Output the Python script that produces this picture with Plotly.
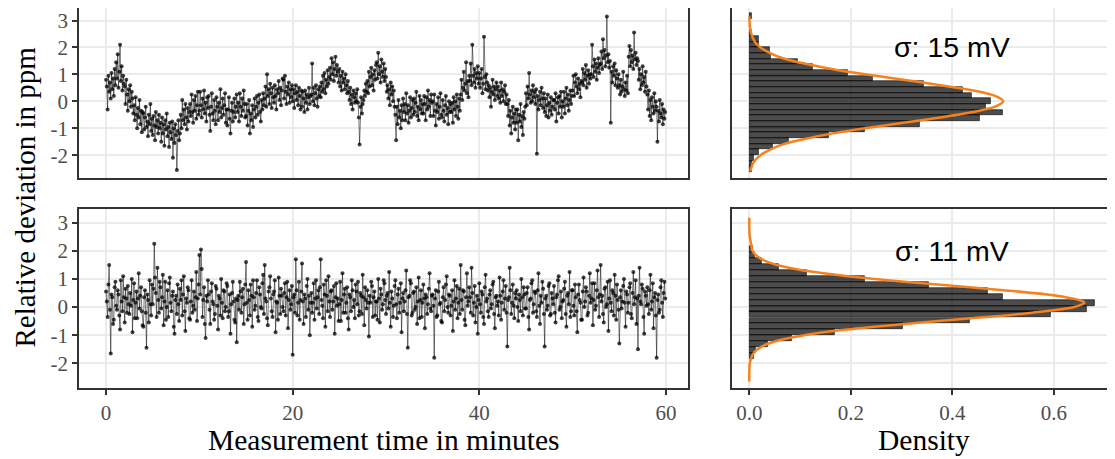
import plotly.graph_objects as go

# The page body adds an 8 px margin, so the figure is drawn 8 px in from the window corner.
PAGE_OFFSET = 8
WIN_W, WIN_H = 1115, 459
W, H = WIN_W - PAGE_OFFSET, WIN_H - PAGE_OFFSET

# ---------------- data ----------------
sample_interval_min = 1 / 12  # one reading every 5 s

# upper measurement, relative deviation in ppm (12 readings per minute)
top_ppm = [
    0.80, 0.55, -0.30, 0.95, 0.35, 0.70, 0.10, 1.05, 0.45, 0.85, 0.20, 1.20,
    0.60, 1.45, 0.85, 1.75, 0.50, 1.10, 2.10, 0.75, 1.30, 0.40, 0.95, 0.65,
    0.55, -0.10, 0.80, 0.25, -0.35, 0.45, 0.00, 0.60, -0.20, 0.35, 0.10, -0.45,
    -0.15, -0.70, 0.15, -0.50, -1.00, -0.25, -0.60, 0.05, -0.85, -0.35, -1.15, -0.40,
    -0.45, -1.05, -0.60, -0.20, -0.95, -0.75, -1.30, -0.50, -0.85, -0.10, -1.10, -0.65,
    -1.25, -0.55, -0.90, -1.45, -0.40, -0.95, -0.70, -1.20, -0.50, -1.00, -0.80, -1.50,
    -0.60, -1.20, -0.85, -1.65, -0.70, -1.05, -0.45, -1.30, -0.95, -1.70, -0.80, -1.15,
    -1.40, -0.75, -2.10, -1.00, -1.55, -0.85, -1.25, -2.55, -1.10, -0.70, -1.45, -1.20,
    -0.50, -1.00, 0.05, -0.70, -0.30, -0.85, -0.10, -0.60, -1.05, -0.25, -0.75, -0.40,
    -0.10, -0.55, 0.25, -0.40, -0.80, 0.05, -0.35, 0.20, -0.65, -0.15, 0.35, -0.50,
    -0.35, 0.35, -0.15, -0.60, 0.10, -0.30, 0.40, -0.45, -0.05, -0.75, 0.15, -0.25,
    0.20, -0.50, -1.10, -0.20, 0.30, -0.45, -0.70, 0.05, -0.35, -0.85, 0.15, -0.20,
    -0.70, -0.05, -0.40, 0.45, -0.60, -0.25, 0.10, -0.50, -0.15, 0.30, -0.80, -0.30,
    -0.90, -0.30, 0.15, -0.65, -1.20, -0.35, -0.05, -0.75, -0.40, 0.10, -0.60, -0.20,
    0.25, -0.40, -0.05, -0.75, 0.30, -0.20, -0.55, 0.10, -0.35, 0.40, -0.10, -0.60,
    -0.55, -0.10, -0.90, -0.35, 0.05, -1.20, -0.45, -0.70, -0.15, -0.95, -0.30, 0.10,
    -0.60, -0.20, 0.20, -0.50, -0.05, 0.25, -0.40, -0.75, 0.05, -0.30, 0.30, -0.15,
    0.10, 0.55, -0.20, 1.00, 0.20, 0.45, -0.10, 0.65, 0.30, -0.25, 0.50, 0.15,
    -0.05, 0.60, 0.20, -0.30, 0.45, 0.30, 0.75, 0.05, 0.50, -0.15, 0.40, 0.85,
    0.80, 0.10, 0.95, 0.35, -0.10, 0.55, 0.25, 0.70, -0.05, 0.45, 0.15, 0.60,
    0.00, 0.45, -0.25, 0.30, 0.60, 0.05, 0.35, -0.15, 0.50, 0.20, -0.30, 0.40,
    -0.20, 0.35, 0.10, -0.40, 0.40, -0.05, 0.25, -0.30, 0.15, 0.50, -0.10, 0.20,
    0.25, 1.40, 0.00, 0.50, -0.15, 0.30, 0.60, 0.10, -0.20, 0.45, 0.20, 0.55,
    0.15, 0.70, 0.35, 0.95, 0.45, 1.05, 0.30, 0.80, 0.55, 1.15, 0.65, 0.90,
    1.25, 0.80, 1.60, 1.00, 1.45, 0.75, 1.20, 1.65, 0.95, 1.35, 1.10, 0.70,
    1.20, 0.55, 0.95, 0.40, 1.10, 0.70, 0.85, 0.45, 1.00, 0.60, 0.30, 0.75,
    0.35, 0.05, 0.50, -0.10, 0.25, -0.30, 0.40, 0.15, -0.05, 0.30, 0.00, 0.45,
    -0.05, -0.60, -1.60, -0.20, 0.15, -0.45, -0.10, 0.05, 0.40, 0.20, 0.65, 0.35,
    0.75, 0.30, 1.10, 0.55, 0.90, 1.25, 0.60, 1.00, 0.40, 1.15, 0.80, 1.35,
    1.45, 0.85, 1.80, 1.00, 1.30, 0.70, 1.55, 1.10, 0.90, 1.40, 0.75, 1.20,
    0.90, 0.35, 0.60, 0.10, 0.45, -0.15, 0.70, 0.25, 0.55, 0.00, 0.40, -0.20,
    -0.50, -1.45, -0.20, -0.85, 0.05, -0.60, -0.35, -1.00, -0.15, -0.70, 0.10, -0.40,
    -0.10, -0.70, 0.30, -0.45, -0.15, -0.80, -0.35, 0.15, -0.60, -0.25, 0.05, -0.50,
    0.10, -0.40, -0.05, 0.35, -0.55, -0.20, -0.70, 0.20, -0.30, 0.05, -0.45, -0.10,
    -0.45, 0.20, -0.10, -0.70, 0.15, -0.30, 0.40, -0.20, 0.05, -0.55, 0.25, -0.05,
    0.00, -0.55, 0.25, -0.35, -0.90, -0.10, -0.40, 0.15, -0.65, -0.20, 0.30, -0.50,
    -0.60, 0.05, -0.35, -0.75, -0.15, 0.20, -0.50, -0.25, -0.85, 0.00, -0.40, -0.10,
    -0.40, -0.05, -0.80, 0.15, -0.30, 0.00, -0.55, 0.25, -0.20, -0.65, 0.10, -0.35,
    0.25, 0.80, 0.05, 0.50, 1.10, 0.40, 0.65, 1.45, 0.30, 0.75, 0.15, 0.95,
    0.75, 1.40, 0.60, 2.10, 0.95, 0.70, 1.20, 0.50, 1.05, 0.85, 1.30, 0.65,
    1.05, 0.50, 0.85, 1.20, 0.30, 0.65, 2.40, 0.90, 0.45, 1.00, 0.70, 0.40,
    0.60, 0.15, 0.50, -0.20, 0.35, 0.80, 0.25, 0.55, 0.05, 0.45, 0.70, 0.20,
    0.55, 0.10, 0.40, -0.05, 0.70, 0.20, 0.45, 0.00, 0.35, 0.60, -0.10, 0.25,
    -0.10, -0.55, 0.05, -0.90, -0.35, -1.20, -0.60, -0.20, -0.80, -0.45, -1.05, -0.30,
    -0.80, -0.30, -1.45, -0.50, -0.75, -0.10, -0.95, -0.55, -1.25, -0.40, -0.65, -0.20,
    0.30, -0.15, 0.55, 0.10, 1.05, 0.25, -0.05, 0.40, 0.00, 0.60, 0.15, 0.35,
    -0.10, 0.45, -1.95, 0.20, -0.30, 0.05, 0.35, -0.15, 0.50, 0.10, -0.25, 0.30,
    -0.40, 0.10, -0.55, -0.15, 0.25, -0.60, -0.05, -0.35, 0.15, -0.50, -0.20, 0.05,
    0.05, -0.30, 0.30, -0.75, -0.05, 0.15, -0.45, 0.20, -0.20, 0.35, -0.60, 0.00,
    -0.20, 0.35, -0.45, 0.10, 0.50, -0.15, 0.25, -0.35, 0.05, 0.40, -0.10, 0.20,
    0.40, 0.95, 0.20, 0.70, 1.00, 0.55, 0.30, 0.85, 0.45, 0.65, 0.15, 0.75,
    0.70, 1.20, 0.60, 1.05, 0.80, 1.35, 0.50, 0.95, 1.15, 0.65, 1.00, 0.85,
    1.00, 2.10, 1.30, 0.90, 1.55, 1.10, 1.40, 0.80, 1.25, 1.60, 1.05, 1.35,
    1.40, 1.85, 1.20, 2.30, 1.60, 1.90, 1.30, 1.70, 3.15, 1.45, 1.75, 1.25,
    1.50, -0.80, 1.10, 0.70, 1.30, 0.95, 1.40, 0.60, 1.15, 0.85, 0.50, 1.00,
    0.60, 0.25, 0.80, 0.35, 0.55, 1.10, 0.45, 0.20, 0.70, 0.40, 0.95, 0.30,
    1.65, 2.05, 1.30, 1.90, 1.45, 1.70, 1.20, 2.55, 1.55, 1.80, 1.35, 1.60,
    1.50, 0.80, 1.20, 0.45, 1.00, 0.60, 1.30, 0.70, 0.90, 0.35, 1.10, 0.55,
    0.25, -0.30, 0.40, -0.55, 0.05, -0.70, 0.15, -0.20, -0.45, 0.30, -0.35, 0.00,
    -0.20, -1.50, -0.35, -0.75, 0.05, -0.45, -0.60, -0.10, -0.85, -0.30, -0.65, -0.40,
]

# lower measurement, relative deviation in ppm (12 readings per minute)
bottom_ppm = [
    0.55, 0.20, -0.35, 0.80, 1.50, -0.10, -1.65, 0.45, 0.35, -0.60, -0.45, 0.70,
    0.90, 0.05, -0.10, 0.60, 0.45, -0.30, -0.80, 0.95, 0.20, -0.15, 1.10, 0.35,
    -0.55, 0.65, 0.30, -0.20, 0.75, 0.10, -0.25, 0.50, 0.05, 1.00, -0.90, 0.25,
    0.85, -0.40, 0.15, 0.55, -0.40, 0.30, 1.20, -0.05, 0.40, 0.70, -0.15, -0.65,
    -0.70, 0.35, 0.60, -0.20, -1.45, 0.45, 0.25, -0.55, 0.95, 0.10, -0.30, 0.80,
    0.10, 0.65, 2.25, 1.05, 0.50, -0.35, 1.40, 0.25, -0.20, 0.90, 0.70, -0.05,
    0.35, 1.15, -0.65, 0.20, 0.90, -0.45, 0.00, 0.60, -0.35, 0.85, 1.05, 0.15,
    -0.15, 0.40, 0.55, -0.70, -0.95, 0.25, 0.40, -0.25, 0.80, 0.10, -0.50, 0.65,
    0.25, 0.95, -0.30, 0.45, 1.10, -0.15, -0.85, 0.30, 0.15, 0.70, 0.60, -0.40,
    -0.45, 0.20, 0.95, -0.20, 0.05, 0.55, -0.10, 0.35, 1.25, -0.50, 0.30, 0.80,
    1.85, 0.45, 2.05, 1.35, -0.35, 0.25, 0.70, -0.60, -1.10, 0.40, 0.20, 0.95,
    0.45, -0.10, -0.60, 0.55, 0.85, 0.20, 0.10, -0.45, -0.25, 0.75, 0.65, 0.05,
    -0.80, 0.40, 0.30, -0.30, 1.00, 0.15, -0.40, 0.60, 0.55, -0.15, 0.00, 0.85,
    0.75, -0.35, -0.15, 0.45, -0.95, 0.10, 0.50, 0.90, 0.20, -0.45, -0.55, 0.30,
    -1.25, 0.25, 0.40, -0.10, 0.90, 0.55, -0.20, 0.35, 0.65, -0.60, 0.10, 0.80,
    1.60, 0.15, -0.45, 0.60, 0.25, -0.30, 0.80, 0.40, -0.70, 0.95, 0.35, -0.10,
    0.05, 0.50, 0.95, -0.35, -0.50, 0.70, 0.45, 0.00, -0.05, 0.85, 1.15, -0.25,
    1.50, 0.30, 0.20, -0.40, -0.65, 0.55, 0.70, 1.10, 0.30, -0.15, -0.35, 0.45,
    0.55, 0.95, -0.90, 0.20, 0.15, -0.45, 1.05, 0.40, -0.25, 0.65, 0.40, 0.00,
    -0.15, 0.50, 0.85, -0.30, 0.35, 0.90, -0.75, 0.25, 0.60, -0.10, 0.10, 0.75,
    -1.70, 0.35, 0.45, -0.20, 1.70, 0.60, -0.30, 0.15, 0.90, -0.45, 0.25, 0.55,
    1.55, 0.20, -0.60, 0.45, 0.30, -0.35, 0.75, 1.00, -0.10, 0.40, -1.00, 0.15,
    0.50, -0.20, 0.15, 0.85, -0.45, 0.30, 0.95, -0.05, 0.35, 0.60, -0.25, 0.70,
    1.70, 0.25, 0.05, -0.40, 0.80, 0.45, -0.70, 0.95, 0.40, -0.15, 1.10, 0.20,
    -0.35, 0.55, 0.60, -0.10, 0.20, 0.75, -0.95, 0.35, 0.85, 0.05, 0.30, -0.50,
    0.10, 0.90, -0.50, 0.25, 1.20, -0.20, 0.45, 0.65, -0.20, 0.15, 0.70, -0.40,
    -0.80, 0.45, 0.35, -0.15, 0.95, 0.60, 0.00, 0.25, -0.40, 0.80, 0.55, 0.10,
    0.90, -0.30, -0.15, 0.50, 0.40, -0.25, 1.15, 0.35, -0.65, 0.70, 0.25, -0.05,
    0.60, 0.15, -1.05, 0.40, 0.15, 0.90, 0.75, -0.35, 0.35, 0.55, -0.30, 0.20,
    0.20, -0.45, 1.00, 0.30, -0.55, 0.65, 0.45, -0.10, 0.10, 0.95, 0.85, 0.25,
    -0.25, 0.40, 0.50, -0.05, 1.25, 0.15, -0.70, 0.55, 0.30, -0.35, 0.05, 0.75,
    0.95, 0.10, -0.40, 0.45, 0.65, -0.20, 0.15, 0.85, -0.90, 0.30, 0.50, -0.15,
    0.20, 0.60, 1.30, -0.25, -1.45, 0.35, 0.40, 0.95, 0.85, -0.30, -0.20, 0.50,
    0.55, -0.10, 0.00, 0.70, -0.60, 0.20, 1.05, -0.40, 0.25, 0.60, -0.35, 0.15,
    0.80, 0.30, -0.75, 0.45, 0.35, -0.25, 0.10, 0.65, 1.20, -0.05, -0.15, 0.40,
    0.45, 0.05, -1.80, 0.30, 0.60, -0.35, -0.30, 0.55, 0.90, 0.10, 0.15, -0.50,
    -0.55, 0.35, 0.70, -0.15, 0.25, 0.80, 1.10, 0.00, -0.20, 0.45, 0.40, -0.30,
    0.05, 0.60, -0.85, 0.20, 0.95, -0.10, 0.30, 0.75, -0.40, 0.15, 0.65, -0.25,
    1.50, 0.25, -0.10, 0.60, 0.55, -0.45, -0.65, 0.35, 1.20, 0.05, 0.20, 0.70,
    0.35, -0.20, 1.40, 0.50, -0.30, 0.15, 0.75, -0.55, 0.00, 0.40, -0.95, 0.25,
    0.85, 0.10, -0.20, 0.55, 0.45, -0.35, -0.60, 0.70, 1.15, 0.20, 0.30, -0.15,
    -0.35, 0.45, 0.60, -0.05, 0.10, 0.80, 0.90, -0.25, -0.75, 0.35, 0.40, 0.05,
    0.20, -0.30, 1.05, 0.40, -0.45, 0.15, 0.55, 0.95, -0.10, 0.30, 0.75, -0.20,
    -1.40, 0.25, 0.35, 1.40, 0.60, -0.25, 0.15, 0.80, 0.05, -0.40, 0.50, 0.30,
    0.60, 0.00, -0.50, 0.45, 0.25, -0.15, 1.00, 0.35, -0.30, 0.70, 0.45, -0.05,
    -0.05, 0.50, 0.70, -0.35, -0.80, 0.25, 0.30, 0.85, 0.95, -0.20, 0.10, 0.55,
    0.50, -0.15, -0.35, 0.60, 1.20, 0.05, -0.60, 0.40, 0.15, 0.90, 0.65, -0.25,
    -1.40, 0.30, 0.40, -0.10, 0.05, 0.75, 0.85, -0.30, -0.25, 0.50, 0.30, 0.10,
    0.75, -0.20, -0.55, 0.35, 0.45, 0.95, 1.10, -0.10, 0.00, 0.55, -0.40, 0.20,
    0.25, 0.65, 0.90, -0.25, -0.70, 0.40, 0.50, 0.10, 1.25, -0.35, -0.15, 0.60,
    0.60, 0.05, -0.30, 0.80, 0.35, -0.15, -0.90, 0.45, 0.80, 0.25, 0.15, -0.45,
    -0.45, 0.55, 1.05, 0.00, 0.20, 0.70, 0.55, -0.30, -0.20, 0.40, 1.20, 0.15,
    0.30, 0.85, -0.65, 0.25, 0.85, -0.10, 0.05, 0.60, 1.30, 0.35, -0.35, 0.45,
    1.50, 0.20, 0.40, -0.25, -0.55, 0.65, 0.70, 0.00, 0.10, 0.90, -0.85, 0.30,
    0.95, 0.15, -0.15, 0.60, 0.50, -0.30, 1.15, 0.40, -0.45, 0.80, 0.25, -0.10,
    -1.30, 0.35, 0.60, -0.05, 0.20, 0.75, 1.00, 0.15, -0.70, 0.55, 0.45, -0.20,
    0.15, 0.70, 0.85, -0.25, -0.40, 0.50, 1.25, 0.10, 0.35, 0.95, -0.60, 0.30,
    -1.50, 0.40, 1.40, 0.20, 0.10, 0.80, 0.65, -0.35, -0.95, 0.55, 0.40, 0.05,
    0.70, 0.10, -0.25, 0.60, 1.15, -0.10, 0.20, 0.85, -0.75, 0.35, 0.50, -0.30,
    -1.80, 0.25, 0.45, -0.20, -0.10, 0.70, 0.95, 0.15, -0.35, 0.50, 0.90, 0.30,
]

time_min = [i * sample_interval_min for i in range(len(top_ppm))]

# histograms (bin centre in ppm, density)
top_bin_width = 0.21
top_bin_centers = [3.155, 2.525, 2.315, 2.105, 1.895, 1.685, 1.475, 1.265, 1.055, 0.845,
                   0.635, 0.425, 0.215, 0.005, -0.205, -0.415, -0.625, -0.835, -1.045,
                   -1.255, -1.465, -1.675, -1.885, -2.095, -2.305, -2.515]
top_bin_density = [0.005, 0.005, 0.018, 0.019, 0.040, 0.042, 0.095, 0.125, 0.194, 0.243,
                   0.343, 0.420, 0.438, 0.475, 0.465, 0.499, 0.454, 0.335, 0.227,
                   0.156, 0.077, 0.047, 0.018, 0.009, 0.005, 0.005]

bottom_bin_width = 0.213
bottom_bin_centers = [2.078, 1.865, 1.652, 1.439, 1.226, 1.013, 0.800, 0.588, 0.375, 0.162,
                      -0.052, -0.264, -0.478, -0.690, -0.904, -1.116, -1.330, -1.542, -1.756]
bottom_bin_density = [0.007, 0.011, 0.024, 0.058, 0.113, 0.227, 0.353, 0.469, 0.500, 0.681,
                      0.664, 0.594, 0.435, 0.302, 0.169, 0.083, 0.036, 0.012, 0.008]

# fitted normal curves (ppm, density)
top_fit_ppm = [3.15, 2.8, 2.5, 2.2, 2.0, 1.8, 1.6, 1.4, 1.2, 1.0, 0.8, 0.6, 0.4, 0.2, 0.0,
               -0.2, -0.4, -0.6, -0.8, -1.0, -1.2, -1.4, -1.6, -1.8, -2.0, -2.2, -2.4, -2.6]
top_fit_density = [0.000, 0.001, 0.004, 0.011, 0.022, 0.040, 0.066, 0.108, 0.162, 0.228,
                   0.303, 0.376, 0.441, 0.484, 0.500, 0.484, 0.441, 0.376, 0.303, 0.228,
                   0.162, 0.108, 0.066, 0.040, 0.022, 0.011, 0.005, 0.002]

bottom_fit_ppm = [3.18, 2.8, 2.5, 2.2, 2.0, 1.8, 1.6, 1.4, 1.2, 1.0, 0.8, 0.6, 0.4, 0.2,
                  0.15, 0.0, -0.2, -0.4, -0.6, -0.8, -1.0, -1.2, -1.4, -1.6, -1.8, -2.0,
                  -2.3, -2.65]
bottom_fit_density = [0.000, 0.000, 0.001, 0.004, 0.006, 0.016, 0.037, 0.078, 0.146, 0.246,
                      0.371, 0.500, 0.606, 0.657, 0.660, 0.640, 0.558, 0.437, 0.306, 0.192,
                      0.108, 0.055, 0.025, 0.010, 0.004, 0.001, 0.000, 0.000]

sigma_labels = ["σ: 15 mV", "σ: 11 mV"]

time_ticks = [0, 20, 40, 60]
density_ticks = [0.0, 0.2, 0.4, 0.6]
density_tick_labels = ["0.0", "0.2", "0.4", "0.6"]
ppm_ticks = [3, 2, 1, 0, -1, -2]
ppm_tick_labels = ["3", "2", "1", "0", "-1", "-2"]

x_title_left = "Measurement time in minutes"
x_title_right = "Density"
y_title = "Relative deviation in ppm"

# ---------------- styling ----------------
SERIF = "Liberation Serif, Times New Roman, serif"
SANS = "Liberation Sans, Arial, sans-serif"
GRID = "#EBEBEB"
FRAME = "#333333"
TICKTXT = "#4D4D4D"
ORANGE = "#F5821F"


def px_x(p):
    """window pixel -> paper fraction"""
    return (p - PAGE_OFFSET) / W


def px_y(p):
    return 1 - (p - PAGE_OFFSET) / H


left_dom = [px_x(79), px_x(688)]
right_dom = [px_x(731.7), 1.0]
top_dom = [px_y(178.3), min(1.0, px_y(6.7))]
bot_dom = [px_y(388.3), px_y(209)]

time_range = [-2.9, 62.36]
dens_range = [-0.0347, 0.7202]
top_range = [-2.859, 3.464]
bot_range = [-2.889, 3.487]

fig = go.Figure()

series_line = dict(color="rgba(0,0,0,0.65)", width=0.8)
series_marker = dict(color="rgba(0,0,0,0.75)", size=4, line=dict(width=0))

fig.add_trace(go.Scatter(x=time_min, y=top_ppm, mode="lines+markers", line=series_line,
                         marker=series_marker, xaxis="x", yaxis="y", showlegend=False))
fig.add_trace(go.Scatter(x=time_min, y=bottom_ppm, mode="lines+markers", line=series_line,
                         marker=series_marker, xaxis="x3", yaxis="y3", showlegend=False))

bar_marker = dict(color="rgba(0,0,0,0.70)", line=dict(color="black", width=0.6))
fig.add_trace(go.Bar(x=top_bin_density, y=top_bin_centers, orientation="h",
                     width=top_bin_width, marker=bar_marker, xaxis="x2", yaxis="y2",
                     showlegend=False))
fig.add_trace(go.Bar(x=bottom_bin_density, y=bottom_bin_centers, orientation="h",
                     width=bottom_bin_width, marker=bar_marker, xaxis="x4", yaxis="y4",
                     showlegend=False))

fig.add_trace(go.Scatter(x=top_fit_density, y=top_fit_ppm, mode="lines",
                         line=dict(color=ORANGE, width=2.5, shape="spline", smoothing=0.8),
                         xaxis="x2", yaxis="y2", showlegend=False))
fig.add_trace(go.Scatter(x=bottom_fit_density, y=bottom_fit_ppm, mode="lines",
                         line=dict(color=ORANGE, width=2.5, shape="spline", smoothing=0.8),
                         xaxis="x4", yaxis="y4", showlegend=False))

tickfont = dict(family=SERIF, size=21, color=TICKTXT)


def xax(domain, rng, anchor, tickvals, ticktext, show_labels, mirror=True):
    return dict(domain=domain, range=rng, anchor=anchor, tickvals=tickvals, ticktext=ticktext,
                showticklabels=show_labels, ticks="outside" if show_labels else "",
                ticklen=5, tickwidth=1.5, tickcolor=FRAME, tickfont=tickfont,
                showgrid=True, gridcolor=GRID, gridwidth=2, zeroline=False,
                showline=True, linecolor=FRAME, linewidth=1.6, mirror=mirror,
                automargin=False, fixedrange=True)


def yax(domain, rng, anchor, show_labels, mirror):
    return dict(domain=domain, range=rng, anchor=anchor, tickvals=ppm_ticks,
                ticktext=ppm_tick_labels, showticklabels=show_labels,
                ticks="outside" if show_labels else "", ticklen=5, tickwidth=1.5,
                tickcolor=FRAME, tickfont=tickfont, showgrid=True, gridcolor=GRID,
                gridwidth=2, zeroline=False, showline=True, linecolor=FRAME,
                linewidth=1.6, mirror=mirror, automargin=False, fixedrange=True)


fig.update_layout(
    width=W, height=H,
    margin=dict(l=0, r=0, t=0, b=0),
    paper_bgcolor="white", plot_bgcolor="white",
    bargap=0,
    xaxis=xax(left_dom, time_range, "y", time_ticks, [str(v) for v in time_ticks], False),
    yaxis=yax(top_dom, top_range, "x", True, True),
    xaxis2=xax(right_dom, dens_range, "y2", density_ticks, density_tick_labels, False),
    yaxis2=yax(top_dom, top_range, "x2", False, False),
    xaxis3=xax(left_dom, time_range, "y3", time_ticks, [str(v) for v in time_ticks], True),
    yaxis3=yax(bot_dom, bot_range, "x3", True, True),
    xaxis4=xax(right_dom, dens_range, "y4", density_ticks, density_tick_labels, True),
    yaxis4=yax(bot_dom, bot_range, "x4", False, False),
)

annotations = [
    dict(text=sigma_labels[0], x=0.4, y=2, xref="x2", yref="y2", showarrow=False,
         font=dict(family=SANS, size=28.5, color="black"), xanchor="center", yanchor="middle"),
    dict(text=sigma_labels[1], x=0.4, y=2, xref="x4", yref="y4", showarrow=False,
         font=dict(family=SANS, size=28.5, color="black"), xanchor="center", yanchor="middle"),
    dict(text=x_title_left, x=px_x(383.5), y=px_y(440), xref="paper", yref="paper",
         showarrow=False, font=dict(family=SERIF, size=29.5, color="black"),
         xanchor="center", yanchor="middle"),
    dict(text=x_title_right, x=px_x(924), y=px_y(440), xref="paper", yref="paper",
         showarrow=False, font=dict(family=SERIF, size=29.5, color="black"),
         xanchor="center", yanchor="middle"),
    dict(text=y_title, x=px_x(24.5), y=px_y(197), xref="paper", yref="paper",
         showarrow=False, textangle=-90, font=dict(family=SERIF, size=29, color="black"),
         xanchor="center", yanchor="middle"),
]
fig.update_layout(annotations=annotations)

fig.write_html("out.html")
